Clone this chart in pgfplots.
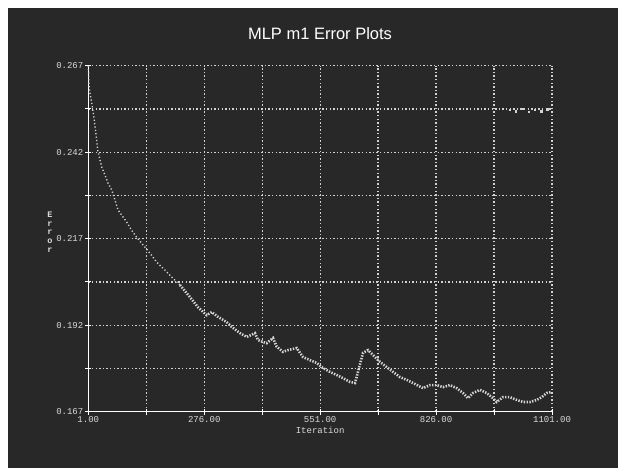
\documentclass[border=0pt]{standalone}
\usepackage{pgfplots}
\pgfplotsset{compat=1.18}
\usepackage{pgfplotstable}
\usepackage{fontspec}
\setmainfont{Liberation Sans}
\newfontfamily\monofont{Liberation Mono}
\definecolor{bg}{HTML}{282828}
\definecolor{gridc}{HTML}{D2D2D2}
\definecolor{txt}{HTML}{DADADA}
\definecolor{curve}{HTML}{D4D4D4}
\pgfplotstableread{
x y
1 0.2670
2.7 0.2614
4.3 0.2595
9.1 0.2562
14.5 0.2519
20.9 0.2455
23.3 0.2426
32.8 0.2377
40.6 0.2354
47.7 0.2331
56.5 0.2311
64.3 0.2282
71.5 0.2253
83.3 0.2233
92.1 0.2218
104 0.2194
115.8 0.2174
147.4 0.2128
163.3 0.2102
183 0.2079
198.8 0.2059
218.5 0.2036
242.3 0.2001
261.2 0.1972
281.9 0.1949
293.7 0.1958
308.7 0.1944
329.3 0.1929
341.2 0.1915
360.9 0.1897
376.8 0.1886
396.4 0.1897
403.6 0.1877
424.2 0.1868
439.1 0.1883
447.9 0.1858
462.9 0.1843
474.7 0.1848
495.4 0.1854
510.3 0.1828
526.9 0.1819
542.8 0.1811
557.8 0.1796
574.4 0.1785
590.3 0.1776
605.2 0.1767
621.8 0.1756
633.7 0.1753
652.7 0.1840
664.6 0.1848
681.2 0.1828
693.0 0.1814
708.9 0.1799
723.8 0.1785
740.4 0.1770
756.3 0.1762
771.3 0.1753
795.0 0.1738
811.6 0.1747
827.5 0.1747
842.4 0.1741
859.0 0.1747
874.9 0.1738
889.9 0.1724
901.7 0.1709
913.6 0.1724
930.2 0.1733
946.1 0.1724
961.0 0.1709
969.8 0.1698
984.7 0.1712
1001.3 0.1712
1017.2 0.1704
1032.2 0.1698
1048.8 0.1698
1064.7 0.1704
1076.6 0.1712
1088.4 0.1724
1100.3 0.1727
}\errdata
\pgfplotstableread{
x y
1001 0.2543
1015 0.2538
1030 0.2545
1045 0.2537
1060 0.2542
1075 0.2538
1090 0.2544
}\strayerr
\begin{document}
\begin{tikzpicture}[x=1pt,y=1pt]
\fill[white] (0,0) rectangle (618,468);
\fill[bg] (8,0) rectangle (618,460);
\useasboundingbox (0,0) rectangle (618,468);
\node[text=white, font=\fontsize{16.5}{20}\selectfont] at (320,434) {MLP m1 Error Plots};
\begin{axis}[
  at={(88.3pt,56.3pt)}, anchor=south west, scale only axis,
  width=463.7pt, height=346pt,
  xmin=1, xmax=1101, ymin=0.167, ymax=0.267,
  axis x line*=bottom, axis y line*=left,
  axis line style={-, draw=white, line width=1.5pt},
  xtick={1,276,551,826,1101},
  xticklabels={1.00,276.00,551.00,826.00,1101.00},
  minor xtick={138.5,413.5,688.5,963.5},
  ytick={0.167,0.192,0.217,0.242,0.267},
  yticklabels={0.167,0.192,0.217,0.242,0.267},
  minor ytick={0.1795,0.2045,0.2295,0.2545},
  grid=both,
  major grid style={gridc, line width=1.3pt, dash pattern=on 1.4pt off 2.2pt},
  minor grid style={gridc, line width=1.3pt, dash pattern=on 1.4pt off 2.2pt},
  tick style={white, line width=1pt},
  major tick length=6pt, minor tick length=6pt, tick align=center,
  ticklabel style={font=\monofont\fontsize{9}{10}\selectfont, text=txt},
  xticklabel style={yshift=1.5pt},
  yticklabel style={xshift=1.5pt},
  xlabel={Iteration},
  xlabel style={font=\monofont\fontsize{9}{10}\selectfont, text=txt,
    at={(axis description cs:0.5,-0.053)}, anchor=center},
  ylabel={E\\r\\r\\o\\r},
  ylabel style={rotate=-90, align=center,
    font=\monofont\bfseries\fontsize{8.5}{8.6}\selectfont, text=txt,
    at={(axis description cs:-0.0826,0.519)}, anchor=center},
  clip=false,
]
\addplot[curve, line width=1.4pt, dash pattern=on 1.2pt off 2.2pt,
  restrict x to domain=0:225] table[x=x,y=y]{\errdata};
\addplot[curve, line width=2.6pt, dash pattern=on 1.4pt off 1.4pt,
  restrict x to domain=215:1102] table[x=x,y=y]{\errdata};
\addplot[curve, only marks, mark=square*, mark size=0.7pt] table[x=x,y=y]{\strayerr};
\end{axis}
\end{tikzpicture}
\end{document}
